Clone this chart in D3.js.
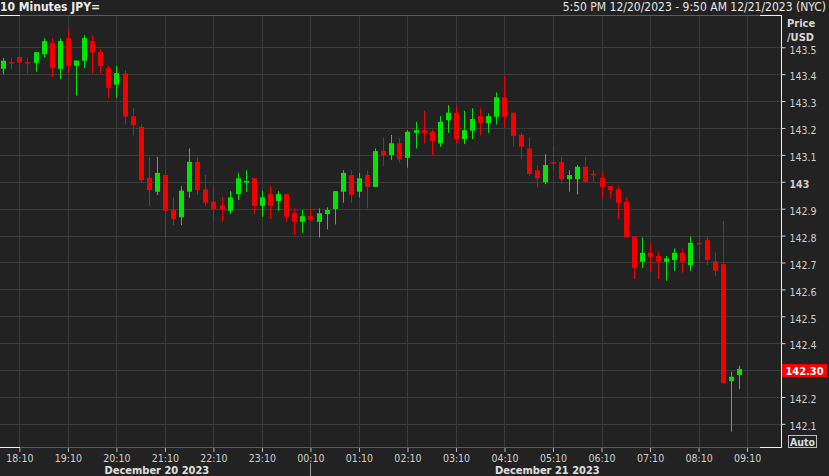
<!DOCTYPE html>
<html>
<head>
<meta charset="utf-8">
<script src="https://cdn.jsdelivr.net/npm/d3@7"></script>
<style>
html,body{margin:0;padding:0;background:#222222;overflow:hidden;}
svg{display:block;}
</style>
</head>
<body>
<svg id="chart" width="829" height="476"></svg>
<script>
// ---- data (10-minute candles, JPY= price per USD) ----
const times = ["17:50","18:00","18:10","18:20","18:30","18:40","18:50","19:00","19:10","19:20","19:30","19:40","19:50",
"20:00","20:10","20:20","20:30","20:40","20:50","21:00","21:10","21:20","21:30","21:40","21:50",
"22:00","22:10","22:20","22:30","22:40","22:50","23:00","23:10","23:20","23:30","23:40","23:50",
"00:00","00:10","00:20","00:30","00:40","00:50","01:00","01:10","01:20","01:30","01:40","01:50",
"02:00","02:10","02:20","02:30","02:40","02:50","03:00","03:10","03:20","03:30","03:40","03:50",
"04:00","04:10","04:20","04:30","04:40","04:50","05:00","05:10","05:20","05:30","05:40","05:50",
"06:00","06:10","06:20","06:30","06:40","06:50","07:00","07:10","07:20","07:30","07:40","07:50",
"08:00","08:10","08:20","08:30","08:40","08:50","09:00"];
const openV = [143.42,143.445,143.464,143.445,143.442,143.474,143.516,143.42,143.534,143.431,143.45,143.523,143.482,
143.422,143.361,143.403,143.244,143.204,143.015,142.963,143.025,142.895,142.868,142.963,143.074,
142.973,142.926,142.913,142.892,142.954,142.997,143.013,142.911,142.954,142.929,142.954,142.883,
142.851,142.872,142.851,142.88,142.899,142.963,143.025,142.963,143.025,142.981,143.114,143.099,
143.143,143.089,143.182,143.192,143.186,143.143,143.229,143.257,143.159,143.19,143.244,143.219,
143.242,143.314,143.257,143.174,143.124,143.043,142.998,143.073,143.074,143.01,143.01,143.056,
143.03,143.015,142.984,142.972,142.926,142.796,142.703,142.736,142.724,142.703,142.709,142.736,
142.69,142.773,142.783,142.705,142.694,142.259,142.282];
const highV = [143.46,143.462,143.466,143.462,143.483,143.533,143.533,143.533,143.567,143.451,143.545,143.545,143.492,
143.431,143.431,143.415,143.273,143.214,143.093,143.093,143.043,142.942,142.984,143.124,143.093,
143.025,142.984,142.944,142.965,143.033,143.043,143.013,142.967,142.985,142.965,142.954,142.901,
142.895,142.901,142.901,142.905,142.965,143.043,143.043,143.033,143.043,143.124,143.165,143.174,
143.161,143.192,143.223,143.264,143.195,143.244,143.285,143.285,143.264,143.273,143.273,143.254,
143.332,143.393,143.257,143.182,143.165,143.062,143.103,143.133,143.093,143.043,143.062,143.093,
143.043,143.035,142.984,142.984,142.944,142.798,142.793,142.773,142.74,142.724,142.752,142.752,
142.796,142.804,142.796,142.736,142.854,142.294,142.316];
const lowV = [143.40,143.418,143.38,143.403,143.409,143.462,143.39,143.382,143.403,143.32,143.422,143.403,143.403,
143.312,143.312,143.213,143.171,142.996,142.91,142.951,142.79,142.839,142.839,142.941,142.951,
142.91,142.851,142.851,142.88,142.932,142.963,142.88,142.87,142.861,142.892,142.851,142.802,
142.81,142.851,142.793,142.823,142.842,142.922,142.922,142.941,142.901,142.981,143.058,143.081,
143.071,143.052,143.124,143.143,143.099,143.13,143.182,143.143,143.14,143.159,143.171,143.182,
143.213,143.201,143.13,143.083,143.022,142.979,142.991,143.04,142.994,142.963,142.953,142.994,
142.998,142.938,142.938,142.86,142.793,142.638,142.68,142.665,142.638,142.632,142.669,142.662,
142.669,142.709,142.69,142.649,142.251,142.071,142.229];
const closeV = [143.45,143.443,143.443,143.442,143.482,143.523,143.422,143.523,143.431,143.451,143.534,143.481,143.431,
143.349,143.404,143.242,143.211,143.006,142.969,143.033,142.892,142.861,142.967,143.074,142.969,
142.922,142.899,142.899,142.942,143.013,143.003,142.911,142.942,142.911,142.954,142.87,142.851,
142.872,142.86,142.883,142.895,142.965,143.033,142.951,143.013,142.981,143.114,143.099,143.143,
143.083,143.186,143.192,143.182,143.152,143.223,143.257,143.159,143.192,143.233,143.219,143.244,
143.314,143.242,143.17,143.13,143.029,143.013,143.062,143.068,143.01,143.025,143.056,143.0,
143.025,142.981,142.969,142.922,142.793,142.68,142.736,142.721,142.703,142.715,142.736,142.703,
142.773,142.768,142.709,142.669,142.251,142.275,142.304];
const priceTicks = [142.1,142.2,142.3,142.4,142.5,142.6,142.7,142.8,142.9,143.0,143.1,143.2,143.3,143.4,143.5];
const timeTicks = ["18:10","19:10","20:10","21:10","22:10","23:10","00:10","01:10","02:10","03:10","04:10","05:10","06:10","07:10","08:10","09:10"];
const dateLabels = ["December 20 2023","December 21 2023"];
const lastPrice = "142.30";
const headerLeft = "10 Minutes JPY=";
const headerRight = "5:50 PM 12/20/2023 - 9:50 AM 12/21/2023 (NYC)";

// ---- helpers ----
function toDate(hm){
  const [h,m] = hm.split(":").map(Number);
  const day = h >= 12 ? 20 : 21;
  return new Date(2023, 11, day, h, m);
}
const candles = times.map((t,i)=>({t:toDate(t),o:openV[i],h:highV[i],l:lowV[i],c:closeV[i]}));

const svg = d3.select("#chart");
const W = 829, H = 476;
const plot = {left:0, right:781, top:15, bottom:447};
const UP = "#00e600", DOWN = "#f20000";
const GRID = "#3a3a3a";

const x = d3.scaleTime()
  .domain([new Date(2023,11,20,17,46), new Date(2023,11,21,9,52)])
  .range([plot.left, plot.right]);
const y = d3.scaleLinear().domain([142.014, 143.620]).range([plot.bottom, plot.top]);

svg.append("rect").attr("width",W).attr("height",H).attr("fill","#222222");

// grid
const g = svg.append("g");
g.selectAll(".hg").data(priceTicks).join("line")
  .attr("x1",plot.left).attr("x2",plot.right)
  .attr("y1",d=>Math.round(y(d))+0.5).attr("y2",d=>Math.round(y(d))+0.5)
  .attr("stroke",GRID).attr("stroke-width",1);
g.selectAll(".vg").data(timeTicks).join("line")
  .attr("x1",d=>Math.round(x(toDate(d)))+0.5).attr("x2",d=>Math.round(x(toDate(d)))+0.5)
  .attr("y1",plot.top).attr("y2",plot.bottom)
  .attr("stroke",GRID).attr("stroke-width",1);

// candles
const cg = svg.append("g");
const bw = 5;
cg.selectAll(".wick").data(candles).join("line")
  .attr("x1",d=>Math.round(x(d.t))+0.5).attr("x2",d=>Math.round(x(d.t))+0.5)
  .attr("y1",d=>y(d.h)).attr("y2",d=>y(d.l))
  .attr("stroke",d=>d.c>=d.o?UP:DOWN).attr("stroke-width",1);
cg.selectAll(".body").data(candles).join("rect")
  .attr("x",d=>Math.round(x(d.t))-2)
  .attr("width",bw)
  .attr("y",d=>y(Math.max(d.o,d.c)))
  .attr("height",d=>Math.max(1.5, Math.abs(y(d.o)-y(d.c))))
  .attr("fill",d=>d.c>=d.o?UP:DOWN);

// frame
const fr = svg.append("g");
fr.append("line").attr("x1",0).attr("x2",plot.right).attr("y1",plot.top+0.5).attr("y2",plot.top+0.5).attr("stroke","#5c5c5c");
fr.append("line").attr("x1",0).attr("x2",plot.right).attr("y1",plot.bottom+0.5).attr("y2",plot.bottom+0.5).attr("stroke","#5c5c5c");
[[0,20],[760,plot.right]].forEach(([a,b])=>{
  fr.append("line").attr("x1",a).attr("x2",b).attr("y1",plot.top+0.5).attr("y2",plot.top+0.5).attr("stroke","#f0f0f0");
  fr.append("line").attr("x1",a).attr("x2",b).attr("y1",plot.bottom+0.5).attr("y2",plot.bottom+0.5).attr("stroke","#f0f0f0");
});
fr.append("line").attr("x1",plot.right+0.5).attr("x2",plot.right+0.5).attr("y1",plot.top).attr("y2",plot.bottom+1).attr("stroke","#f0f0f0");

// right axis
const yAxis = d3.axisRight(y).tickValues(priceTicks).tickSize(4)
  .tickFormat(d=> Math.abs(d-143)<1e-9 ? "143" : d3.format(".1f")(d));
const ya = svg.append("g").attr("transform",`translate(${plot.right+0.5},0)`).call(yAxis);
ya.select(".domain").remove();
ya.selectAll(".tick line").attr("stroke","#d0d0d0");
ya.selectAll(".tick text")
  .attr("x",8).attr("dy","0.55em")
  .attr("fill","#cfcfcf")
  .style("font-family","'DejaVu Sans Condensed','DejaVu Sans',sans-serif")
  .style("font-size","10.5px")
  .style("font-weight",d=>Math.abs(d-143)<1e-9?"bold":"normal")
  .style("opacity",d=>Math.abs(d-142.3)<1e-9?0:1);

svg.append("text").attr("x",787).attr("y",27).text("Price")
  .attr("fill","#d8d8d8").style("font-family","'DejaVu Sans Condensed','DejaVu Sans',sans-serif").style("font-size","11px").style("font-weight","bold");
svg.append("text").attr("x",787).attr("y",41).text("/USD")
  .attr("fill","#d8d8d8").style("font-family","'DejaVu Sans Condensed','DejaVu Sans',sans-serif").style("font-size","11px").style("font-weight","bold");

// last price box
const lp = +lastPrice;
svg.append("rect").attr("x",782).attr("y",y(lp)-6).attr("width",45).attr("height",13).attr("fill","#ff0000");
svg.append("text").attr("x",804.5).attr("y",y(lp)+4.5).attr("text-anchor","middle").text(lastPrice)
  .attr("fill","#ffffff").style("font-family","'DejaVu Sans Condensed','DejaVu Sans',sans-serif").style("font-size","11px").style("font-weight","bold");

// Auto box
svg.append("rect").attr("x",788.5).attr("y",435.5).attr("width",28).attr("height",12).attr("fill","none").attr("stroke","#bdbdbd");
svg.append("text").attr("x",802.5).attr("y",445.5).attr("text-anchor","middle").text("Auto")
  .attr("fill","#dcdcdc").style("font-family","'DejaVu Sans Condensed','DejaVu Sans',sans-serif").style("font-size","10.5px").style("font-weight","bold");

// bottom axis
const xAxis = d3.axisBottom(x).tickValues(timeTicks.map(toDate)).tickSize(4)
  .tickFormat(d3.timeFormat("%H:%M"));
const xa = svg.append("g").attr("transform",`translate(0,${plot.bottom+1})`).call(xAxis);
xa.select(".domain").remove();
xa.selectAll(".tick line").attr("stroke","#bbbbbb");
xa.selectAll(".tick text").attr("y",7).attr("fill","#cfcfcf")
  .style("font-family","'DejaVu Sans Condensed','DejaVu Sans',sans-serif").style("font-size","10.5px");

const dayCenters = [new Date(2023,11,20,21,0), new Date(2023,11,21,5,3)];
svg.selectAll(".dlab").data(dateLabels).join("text")
  .attr("x",(d,i)=>x(dayCenters[i])).attr("y",474).attr("text-anchor","middle").text(d=>d)
  .attr("fill","#e0e0e0").style("font-family","'DejaVu Sans Condensed','DejaVu Sans',sans-serif")
  .style("font-size","11px").style("font-weight","bold");
const sepX = Math.round(x(new Date(2023,11,21,0,10)))+0.5;
svg.append("line").attr("x1",sepX).attr("x2",sepX).attr("y1",463).attr("y2",476).attr("stroke","#9a9a9a");

// header
svg.append("text").attr("x",0).attr("y",11).text(headerLeft)
  .attr("fill","#ececec").style("font-family","'Liberation Sans Narrow','DejaVu Sans Condensed',sans-serif").style("font-size","12px").style("font-weight","bold");
svg.append("text").attr("x",826).attr("y",11).attr("text-anchor","end").text(headerRight)
  .attr("fill","#e6e6e6").style("font-family","'Liberation Sans Narrow','DejaVu Sans Condensed',sans-serif").style("font-size","12px");
</script>
</body>
</html>
